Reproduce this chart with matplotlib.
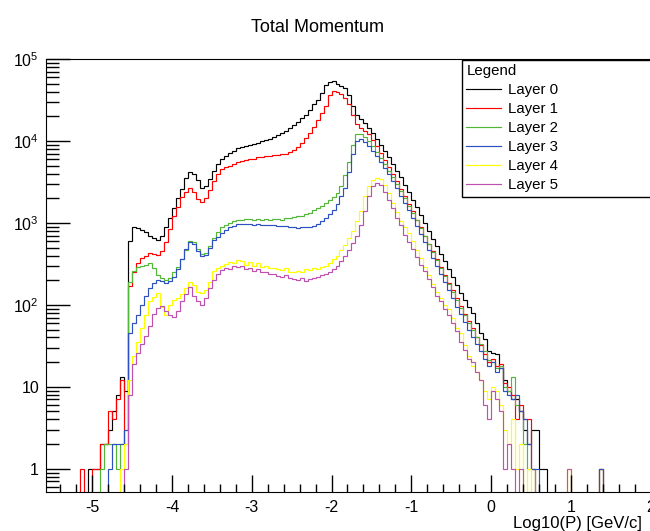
''' Total momentum per layer, ROOT-style log histogram '''

import numpy as np
import matplotlib
matplotlib.use('Agg')
import matplotlib.pyplot as plt
from matplotlib.ticker import LogLocator, NullFormatter, MultipleLocator

plt.rcParams['font.family'] = ['Liberation Sans', 'DejaVu Sans']
plt.rcParams['mathtext.fontset'] = 'custom'
plt.rcParams['mathtext.rm'] = 'Liberation Sans'

# binning: 133 bins of 0.05 starting at log10(P) = -5.2
BIN_LO = -5.2
BIN_W = 0.05

layer0 = [0, 0, 0, 1, 1, 1, 2, 2, 3, 5,
          8, 13, 9, 600, 880, 860, 820, 770, 700, 650,
          620, 700, 900, 1150, 1500, 2000, 2600, 3500, 4200, 4000,
          3300, 2700, 2800, 3400, 4300, 5300, 6000, 6600, 7100, 7600,
          8100, 8400, 8700, 8900, 9200, 9500, 9900, 10300, 10700, 11100,
          11700, 12400, 13300, 14500, 15800, 17200, 19000, 21000, 24000, 28000,
          32000, 39000, 48000, 53000, 54000, 50000, 47000, 44000, 36000, 27000,
          21000, 18500, 16500, 14500, 12500, 10700, 9000, 7600, 6300, 5200,
          4300, 3600, 2900, 2400, 1900, 1550, 1250, 1000, 800, 640,
          520, 420, 340, 275, 220, 175, 140, 115, 95, 80,
          60, 45, 38, 27, 26, 25, 17, 12, 9, 7,
          7, 5, 3, 2, 3, 3, 1, 1, 0, 0,
          0, 0, 0, 0, 0, 0, 0, 0, 0, 0,
          0, 0, 0]
layer1 = [0, 1, 0, 0, 1, 1, 2, 2, 5, 4,
          7, 12, 2, 170, 250, 320, 370, 400, 430, 420,
          410, 460, 580, 850, 1200, 1550, 2050, 2400, 2700, 2400,
          1950, 1800, 2000, 2500, 3200, 3900, 4500, 4800, 5000, 5200,
          5500, 5700, 5900, 6000, 6100, 6300, 6400, 6500, 6600, 6700,
          6800, 6900, 7000, 7300, 7800, 8500, 9500, 10800, 12500, 15000,
          18000, 22000, 27000, 36000, 41000, 40000, 37000, 33000, 28000, 21000,
          16000, 14500, 13300, 12000, 10300, 8600, 7100, 5900, 4800, 3900,
          3200, 2600, 2100, 1700, 1380, 1100, 880, 700, 560, 450,
          360, 290, 230, 185, 150, 120, 97, 78, 63, 52,
          40, 32, 25, 20, 22, 18, 19, 11, 10, 8,
          4, 6, 4, 4, 1, 0, 0, 0, 0, 0,
          0, 0, 0, 0, 0, 0, 0, 0, 0, 0,
          0, 1, 0]
layer2 = [0, 0, 0, 0, 0, 0, 1, 2, 2, 2,
          1, 2, 3, 190, 260, 290, 300, 310, 320, 280,
          230, 210, 200, 210, 250, 290, 360, 470, 600, 580,
          480, 420, 430, 520, 650, 780, 880, 950, 1000, 1050,
          1080, 1100, 1120, 1110, 1100, 1130, 1100, 1120, 1090, 1110,
          1130, 1100, 1150, 1140, 1170, 1200, 1230, 1270, 1330, 1420,
          1520, 1620, 1750, 1900, 2050, 2300, 2800, 3800, 5500, 9000,
          12000, 12000, 11300, 10000, 8700, 7400, 6200, 5200, 4300, 3600,
          3000, 2450, 2000, 1620, 1320, 1070, 860, 690, 550, 440,
          350, 280, 225, 180, 145, 115, 92, 75, 60, 50,
          40, 33, 27, 21, 20, 17, 18, 10, 9, 13,
          6, 5, 2, 1, 1, 0, 0, 0, 0, 0,
          0, 0, 0, 0, 0, 0, 0, 0, 0, 0,
          0, 1, 0]
layer3 = [0, 0, 0, 0, 0, 0, 0, 0, 1, 2,
          2, 2, 3, 45, 60, 75, 100, 130, 160, 185,
          200, 195, 185, 195, 220, 270, 360, 480, 580, 560,
          450, 400, 410, 500, 610, 680, 760, 830, 880, 920,
          960, 980, 970, 960, 950, 960, 940, 950, 930, 945,
          920, 910, 920, 900, 890, 870, 880, 900, 890, 920,
          980, 1050, 1150, 1280, 1450, 1700, 2100, 2700, 4200, 7000,
          10000, 10500, 9800, 8700, 7600, 6500, 5500, 4700, 3900, 3200,
          2650, 2150, 1750, 1420, 1150, 920, 740, 590, 470, 375,
          300, 240, 190, 150, 120, 95, 77, 62, 50, 40,
          33, 27, 22, 18, 20, 15, 17, 9, 8, 7,
          8, 5, 4, 2, 1, 1, 0, 0, 0, 0,
          0, 0, 0, 0, 0, 0, 0, 0, 0, 0,
          0, 1, 0]
layer4 = [0, 0, 0, 0, 0, 0, 0, 0, 0, 0,
          0, 1, 2, 12, 24, 35, 52, 75, 110, 125,
          140, 95, 75, 100, 115, 120, 135, 160, 190, 175,
          145, 140, 150, 190, 260, 280, 300, 315, 330, 320,
          350, 340, 310, 330, 300, 320, 290, 300, 280, 285,
          270, 265, 280, 255, 250, 260, 255, 270, 265, 280,
          275, 290, 300, 320, 360, 400, 470, 540, 650, 800,
          1050, 1400, 2100, 2800, 3300, 3500, 3400, 2900, 2300, 1750,
          1350, 1050, 900, 760, 600, 470, 370, 290, 230, 180,
          145, 120, 100, 90, 70, 52, 45, 32, 24, 18,
          15, 12, 9, 7, 10, 9, 6, 3, 2, 4,
          1, 2, 0, 1, 0, 0, 0, 0, 0, 0,
          0, 0, 0, 1, 0, 0, 0, 0, 0, 0,
          0, 0, 0]
layer5 = [0, 0, 0, 0, 0, 0, 0, 0, 0, 0,
          0, 0, 1, 8, 19, 26, 33, 42, 55, 78,
          92, 98, 85, 75, 72, 85, 110, 135, 165, 130,
          110, 100, 120, 160, 200, 240, 265, 280, 275, 295,
          290, 300, 275, 285, 260, 270, 255, 250, 240, 235,
          225, 220, 230, 210, 205, 200, 210, 195, 205, 210,
          220, 230, 240, 250, 270, 300, 340, 400, 470, 570,
          700, 950, 1400, 2100, 2800, 3100, 2900, 2400, 1900, 1500,
          1150, 950, 720, 580, 480, 380, 310, 260, 205, 165,
          130, 110, 90, 75, 60, 48, 35, 28, 22, 20,
          15, 12, 6, 4, 9, 7, 5, 1, 2, 1,
          0, 1, 0, 0, 0, 0, 0, 0, 0, 0,
          0, 0, 0, 1, 0, 0, 0, 0, 0, 0,
          0, 0, 0]

layers = [layer0, layer1, layer2, layer3, layer4, layer5]
labels = ['Layer 0', 'Layer 1', 'Layer 2', 'Layer 3', 'Layer 4', 'Layer 5']
colors = ['#000000', '#ff0000', '#52b636', '#2c50c0', '#ffff00', '#c050b0']

edges = BIN_LO + BIN_W * np.arange(len(layer0) + 1)

fig = plt.figure(figsize=(6.5, 5.31), dpi=100)
ax = fig.add_axes([0.0708, 0.0734, 0.9300, 0.8155])

for vals, lab, col in zip(layers, labels, colors):
    ax.stairs(np.array(vals, dtype=float), edges, color=col, lw=0.85, label=lab)

ax.set_yscale('log', nonpositive='clip')
ax.set_xlim(-5.58, 2.0)
ax.set_ylim(0.52, 1e5)

ax.set_xticks(range(-5, 3), labels=['-5', '-4', '-3', '-2', '-1', '0', '1', '2'])
ax.xaxis.set_minor_locator(MultipleLocator(0.2))
ax.set_yticks([1, 10, 100, 1e3, 1e4, 1e5],
              labels=['1', '10', '$10^{2}$', '$10^{3}$', '$10^{4}$', '$10^{5}$'])
ax.yaxis.set_minor_locator(LogLocator(base=10, subs=np.arange(2, 10)))
ax.yaxis.set_minor_formatter(NullFormatter())

ax.tick_params(which='both', direction='in', labelsize=11.5, width=1)
ax.tick_params(axis='x', which='major', length=12, pad=6)
ax.tick_params(axis='x', which='minor', length=6)
ax.tick_params(axis='y', which='major', length=17, pad=5)
ax.tick_params(axis='y', which='minor', length=9)
ax.spines['right'].set_visible(False)

fig.text(0.489, 0.948, 'Total Momentum', ha='center', va='center', fontsize=13)
fig.text(0.789, 0.014, 'Log10(P) [GeV/c]', ha='left', va='center', fontsize=12)

leg = ax.legend(loc='upper left', bbox_to_anchor=(0.688, 0.998, 0.35, 0), mode='expand',
                title='Legend', alignment='left', fontsize=10.8, title_fontsize=10.8,
                frameon=True, fancybox=False, framealpha=1, edgecolor='black',
                handlelength=2.3, handletextpad=0.5, labelspacing=0.33,
                borderpad=0.3, borderaxespad=0)
leg.get_frame().set_linewidth(1.0)

fig.savefig('out.png', dpi=100)
